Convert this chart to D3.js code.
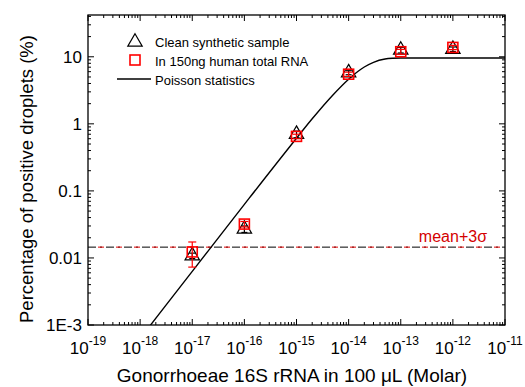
<!DOCTYPE html>
<html>
<head>
<meta charset="utf-8">
<script src="https://cdn.jsdelivr.net/npm/d3@7"></script>
<style>
  body { margin: 0; background: #fff; }
  text { font-family: "Liberation Sans", Arial, sans-serif; }
</style>
</head>
<body>
<div id="chart"></div>
<script>
// data
const concentrations = [1e-17, 1e-16, 1e-15, 1e-14, 1e-13, 1e-12];
const cleanValues = [0.0108, 0.027, 0.70, 5.8, 12.6, 13.0];
const cleanErrors = [0.001, 0.003, 0.08, 0.4, 1.2, 1.0];
const humanValues = [0.0123, 0.032, 0.65, 5.5, 11.9, 13.8];
const humanErrors = [0.005, 0.003, 0.05, 0.4, 1.0, 1.0];

// Poisson statistics curve
const poissonX = [1e-18, 1e-17, 1e-16, 1e-15, 2e-15, 5e-15, 1e-14, 1.5e-14, 2e-14, 3e-14, 5e-14, 7e-14, 1e-13, 1e-12, 1e-11];
const poissonY = [6.3e-4, 6.3e-3, 0.063, 0.61, 1.19, 2.70, 4.64, 6.03, 7.04, 8.27, 9.25, 9.50, 9.59, 9.6, 9.6];

const threshold = 0.0145;

const yTickValues = [1e-3, 0.01, 0.1, 1, 10];
const yTickLabels = ["1E-3", "0.01", "0.1", "1", "10"];
const xTickExponents = [-19, -18, -17, -16, -15, -14, -13, -12, -11];

const width = 525;
const height = 387;
const margin = { top: 15, right: 20, bottom: 62, left: 88 };

const svg = d3.select("#chart").append("svg")
    .attr("width", width)
    .attr("height", height);

const x = d3.scaleLog()
    .domain([1e-19, 1e-11])
    .range([margin.left, width - margin.right]);

const y = d3.scaleLog()
    .domain([1e-3, 42])
    .range([height - margin.bottom, margin.top]);

const x0 = margin.left, x1 = width - margin.right;
const y0 = height - margin.bottom, y1 = margin.top;

function isMajor(v) {
  return Math.abs(Math.log10(v) - Math.round(Math.log10(v))) < 1e-6;
}

// inward ticks on all four sides
const xTicks = x.ticks();
const yTicks = y.ticks();
const tickG = svg.append("g").attr("stroke", "#000").attr("stroke-width", 1);

xTicks.forEach(function(t) {
  const len = isMajor(t) ? 6 : 3;
  tickG.append("line").attr("x1", x(t)).attr("x2", x(t)).attr("y1", y0).attr("y2", y0 - len);
  tickG.append("line").attr("x1", x(t)).attr("x2", x(t)).attr("y1", y1).attr("y2", y1 + len);
});
yTicks.forEach(function(t) {
  if (y(t) < y1) return;
  const len = isMajor(t) ? 6 : 3;
  tickG.append("line").attr("x1", x0).attr("x2", x0 + len).attr("y1", y(t)).attr("y2", y(t));
  tickG.append("line").attr("x1", x1).attr("x2", x1 - len).attr("y1", y(t)).attr("y2", y(t));
});

// clip
svg.append("clipPath").attr("id", "clip")
  .append("rect").attr("x", x0).attr("y", y1).attr("width", x1 - x0).attr("height", y0 - y1);

// threshold lines (mean + 3 sigma)
svg.append("line")
    .attr("x1", x0).attr("x2", x1)
    .attr("y1", y(threshold)).attr("y2", y(threshold))
    .attr("stroke", "#000").attr("stroke-width", 1)
    .attr("stroke-dasharray", "8,4,2,4");
svg.append("line")
    .attr("x1", x0).attr("x2", x1)
    .attr("y1", y(threshold)).attr("y2", y(threshold))
    .attr("stroke", "#e00000").attr("stroke-width", 1)
    .attr("stroke-dasharray", "6,12")
    .attr("stroke-dashoffset", -10);

svg.append("text")
    .attr("x", 487)
    .attr("y", y(threshold) - 5)
    .attr("text-anchor", "end")
    .attr("fill", "#d40000")
    .style("font-size", "16px")
    .text("mean+3σ");

// Poisson curve
const poisson = poissonX.map(function(d, i) { return [d, poissonY[i]]; });
svg.append("path")
    .datum(poisson)
    .attr("clip-path", "url(#clip)")
    .attr("fill", "none")
    .attr("stroke", "#000")
    .attr("stroke-width", 1.4)
    .attr("d", d3.line()
        .x(function(d) { return x(d[0]); })
        .y(function(d) { return y(d[1]); })
        .curve(d3.curveMonotoneX));

// error bars
function errorBars(values, errors, color, cap) {
  const g = svg.append("g").attr("stroke", color).attr("stroke-width", 1.2);
  concentrations.forEach(function(c, i) {
    const cx = x(c);
    const top = y(values[i] + errors[i]);
    const bot = y(Math.max(values[i] - errors[i], 1e-4));
    g.append("line").attr("x1", cx).attr("x2", cx).attr("y1", top).attr("y2", bot);
    g.append("line").attr("x1", cx - cap).attr("x2", cx + cap).attr("y1", top).attr("y2", top);
    g.append("line").attr("x1", cx - cap).attr("x2", cx + cap).attr("y1", bot).attr("y2", bot);
  });
}

const triangle = d3.symbol().type(d3.symbolTriangle).size(90);

errorBars(cleanValues, cleanErrors, "#000", 3);
svg.append("g").selectAll("path")
    .data(cleanValues)
    .enter().append("path")
    .attr("transform", function(d, i) { return "translate(" + x(concentrations[i]) + "," + y(d) + ")"; })
    .attr("d", triangle)
    .attr("fill", "none")
    .attr("stroke", "#000")
    .attr("stroke-width", 1.2);

errorBars(humanValues, humanErrors, "#ff0000", 4);
svg.append("g").selectAll("rect")
    .data(humanValues)
    .enter().append("rect")
    .attr("x", function(d, i) { return x(concentrations[i]) - 5; })
    .attr("y", function(d) { return y(d) - 5; })
    .attr("width", 10)
    .attr("height", 10)
    .attr("fill", "none")
    .attr("stroke", "#ff0000")
    .attr("stroke-width", 1.6);

// frame
svg.append("rect")
    .attr("x", x0).attr("y", y1)
    .attr("width", x1 - x0).attr("height", y0 - y1)
    .attr("fill", "none")
    .attr("stroke", "#000")
    .attr("stroke-width", 1.3);

// y tick labels
svg.append("g").selectAll("text")
    .data(yTickValues)
    .enter().append("text")
    .attr("x", x0 - 6)
    .attr("y", function(d) { return y(d); })
    .attr("dy", "0.35em")
    .attr("text-anchor", "end")
    .style("font-size", "17px")
    .text(function(d, i) { return yTickLabels[i]; });

// x tick labels 10^n
const xLab = svg.append("g").selectAll("text")
    .data(xTickExponents)
    .enter().append("text")
    .attr("x", function(d) { return x(Math.pow(10, d)); })
    .attr("y", 354)
    .attr("text-anchor", "middle")
    .style("font-size", "17px");
xLab.append("tspan").text("10");
xLab.append("tspan")
    .attr("dy", -9)
    .style("font-size", "12px")
    .text(function(d) { return "-" + Math.abs(d); });

// axis titles
svg.append("text")
    .attr("x", 292)
    .attr("y", 382)
    .attr("text-anchor", "middle")
    .style("font-size", "19px")
    .text("Gonorrhoeae 16S rRNA in 100 μL (Molar)");

svg.append("text")
    .attr("transform", "rotate(-90)")
    .attr("x", -179)
    .attr("y", 33)
    .attr("text-anchor", "middle")
    .style("font-size", "18.5px")
    .text("Percentage of positive droplets (%)");

// legend
const legend = svg.append("g");
legend.append("path")
    .attr("transform", "translate(135,42)")
    .attr("d", triangle)
    .attr("fill", "none").attr("stroke", "#000").attr("stroke-width", 1.2);
legend.append("rect")
    .attr("x", 130).attr("y", 55).attr("width", 10).attr("height", 10)
    .attr("fill", "none").attr("stroke", "#ff0000").attr("stroke-width", 1.6);
legend.append("line")
    .attr("x1", 117).attr("x2", 151).attr("y1", 79).attr("y2", 79)
    .attr("stroke", "#000").attr("stroke-width", 1.4);

const legendLabels = ["Clean synthetic sample", "In 150ng human total RNA", "Poisson statistics"];
legend.selectAll(".lab")
    .data(legendLabels)
    .enter().append("text")
    .attr("class", "lab")
    .attr("x", 155)
    .attr("y", function(d, i) { return 42 + i * 19; })
    .attr("dy", "0.35em")
    .style("font-size", "13px")
    .text(function(d) { return d; });
</script>
</body>
</html>
